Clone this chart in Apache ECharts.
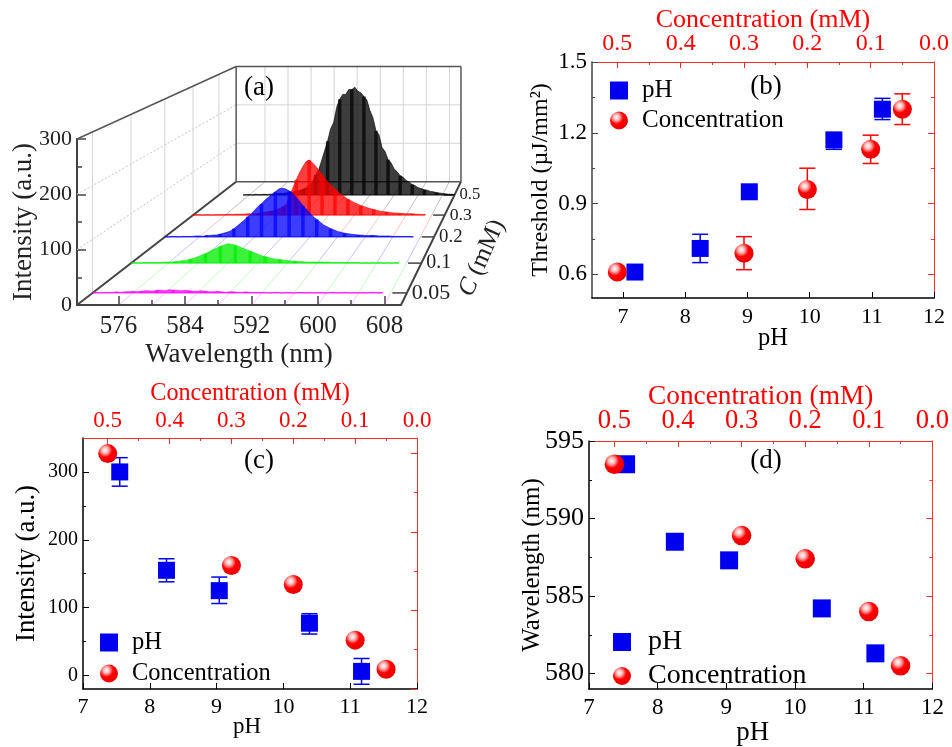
<!DOCTYPE html>
<html><head><meta charset="utf-8">
<style>html,body{margin:0;padding:0;background:#fff}#c{width:952px;height:747px}</style>
<script src="https://cdn.jsdelivr.net/npm/echarts@6/dist/echarts.min.js"></script>
</head><body><div id="c"></div>
<script>
// ---------- Panel (a) data ----------
const wavelengths = [571,571.5,572,572.5,573,573.5,574,574.5,575,575.5,
 576,576.5,577,577.5,578,578.5,579,579.5,580,580.5,
 581,581.5,582,582.5,583,583.5,584,584.5,585,585.5,
 586,586.5,587,587.5,588,588.5,589,589.5,590,590.5,
 591,591.5,592,592.5,593,593.5,594,594.5,595,595.5,
 596,596.5,597,597.5,598,598.5,599,599.5,600,600.5,
 601,601.5,602,602.5,603,603.5,604,604.5,605,605.5,
 606,606.5,607,607.5,608,608.5,609,609.5,610];
const spectrum05 = [null,null,null,null,null,null,null,null,0,1,
 1,0,2,1,1,2,1,2,2,3,
 4,4,5,6,7,8,10,12,15,18,
 24,32,50,62,85,110,134,165,180,218,
 238,250,250,262,262,268,258,254,245,236,
 210,192,160,150,118,108,88,80,65,58,
 48,44,36,32,26,23,18,16,13,12,
 9,8,6,5,4,3,2,2,1];
const spectrum03 = [0,1,1,0,1,1,0,1,1,1,
 1,2,1,2,2,2,2,3,3,3,
 4,5,6,7,9,10,13,16,20,25,
 46,64,82,98,112,124,128,122,114,104,
 94,84,76,68,60,54,48,42,37,33,
 29,26,22,20,17,15,13,11,9,8,
 7,6,5,5,4,4,3,3,3,2,
 2,1,2];
const spectrum02 = [1,0,1,1,0,1,1,1,1,2,
 2,1,3,3,4,4,6,8,10,13,
 18,24,30,36,44,50,58,66,72,80,
 86,92,98,104,106,104,100,94,86,78,
 68,60,52,44,38,32,26,22,18,15,
 12,10,8,7,6,5,4,4,3,3,
 3,3,2,2,2,2,1,1,1,1,
 1,1,0];
const spectrum01 = [0,1,0,1,1,1,1,1,1,2,
 2,2,3,4,5,6,8,10,13,16,
 19,23,27,30,34,36,39,38,36,33,
 30,27,24,21,18,15,13,11,9,8,
 7,6,5,4,4,3,3,2,2,2,
 2,2,2,2,1,1,1,1,1,1,
 1,1,0,1,0,1,0,1,0,1,
 0,1,0];
const spectrum005 = [0,1,0,1,1,1,2,1,2,2,
 3,2,3,4,4,3,5,5,4,6,
 5,5,4,5,4,3,3,4,3,2,
 2,3,2,1,2,2,1,1,2,1,
 1,1,1,1,0,1,1,0,1,1,
 0,1,1,0,1,0,1,1,0,1,
 1,0,1,1,0,1,0,1,0,1,
 1,0,1];
const depthLabels = ['0.05','0.1','0.2','0.3','0.5'];
const depthPositions = [0.07,0.263,0.461,0.651,0.851];
const depthColors = ['#ff00ff','#00ee00','#0000ff','#ff0000','#000000'];
const depthSpectra = [spectrum005,spectrum01,spectrum02,spectrum03,spectrum05];
const wlMajor = [576,584,592,600,608];
const wlMinor = [580,588,596,604];
const wlGrid = [576,580,584,588,592,596,600,604,608];
const aIntensityMajor = [0,100,200,300];
const aIntensityMinor = [50,150,250];

// ---------- Panel (b) ----------
const bPH = [7.19,8.24,9.03,10.39,11.17];
const bPHThreshold = [0.61,0.71,0.95,1.17,1.30];
const bPHLow = [0.61,0.65,0.95,1.13,1.256];
const bPHHigh = [0.61,0.77,0.95,1.20,1.346];
const bConc = [0.5,0.3,0.2,0.1,0.05];
const bConcThreshold = [0.61,0.69,0.96,1.13,1.30];
const bConcLow = [0.61,0.62,0.875,1.07,1.235];
const bConcHigh = [0.61,0.76,1.05,1.19,1.365];
const bYMajor = [0.6,0.9,1.2,1.5];
const bYMinor = [0.75,1.05,1.35];

// ---------- Panel (c) ----------
const cPH = [7.55,8.25,9.04,10.39,11.17];
const cPHIntensity = [300,155,125,77,6];
const cPHLow = [279,138,106,61,-13];
const cPHHigh = [321,172,145,91,25];
const cConc = [0.5,0.3,0.2,0.1,0.05];
const cConcIntensity = [327,162,134,52,9];
const cYMajor = [0,100,200,300];
const cYMinor = [50,150,250];
const cRightMajor = [0,100,200,300];
const cRightMinor = [50,150,250];

// ---------- Panel (d) ----------
const dPH = [7.54,8.25,9.04,10.39,11.17];
const dPHWavelength = [593.5,588.5,587.3,584.2,581.3];
const dConc = [0.5,0.3,0.2,0.1,0.05];
const dConcWavelength = [593.5,588.9,587.4,584.0,580.5];
const dYMajor = [580,585,590,595];
const dYMinor = [582.5,587.5,592.5];

// ---------- Shared ----------
const pHTicks = [7,8,9,10,11,12];
const concMajor = [0,0.1,0.2,0.3,0.4,0.5];
const concMinor = [0.05,0.15,0.25,0.35,0.45];
const FONT = 'Liberation Serif';
const RED = '#ff0000', BLUE = '#0000f0';

const ballColor = {type:'radial',x:0.36,y:0.32,r:0.68,colorStops:[
  {offset:0,color:'#ffffff'},{offset:0.26,color:'#ffb0b0'},{offset:0.55,color:'#ff0000'},{offset:1,color:'#e80000'}]};

const xAxes = [], yAxes = [], grids = [], series = [], legends = [];

function ax(list, o){
  list.push(Object.assign({
    type:'value', gridIndex:o.g, position:o.pos, min:o.min, max:o.max, inverse:!!o.inverse,
    splitLine:{show:false}, minorTick:{show:false},
    axisLine:{show:o.line!==false, onZero:false, lineStyle:{color:o.color, width:o.lw||1.5}},
    axisTick:{show:true, inside:true, length:o.len||6, customValues:o.ticks, lineStyle:{color:o.color, width:o.tw||1}},
    axisLabel:o.labelSize?{show:true, customValues:o.ticks, fontSize:o.labelSize, color:o.color==='#ff3030'?RED:(o.labelColor||'#000'),
      fontFamily:FONT, margin:o.margin||6, formatter:o.fmt||(v=>String(v))}:{show:false},
    name:o.name||'', nameLocation:'middle', nameGap:o.nameGap, nameMoveOverlap:false,
    nameTextStyle:{fontSize:o.nameSize, fontFamily:FONT, color:o.nameColor||'#000', padding:o.namePad||0}
  }));
  return list.length-1;
}

function panel(p){
  const g = grids.length;
  grids.push({left:p.left, top:p.top, width:p.width, height:p.height, containLabel:false});
  const f1 = v=>v.toFixed(1);
  const xb = ax(xAxes,{g,pos:'bottom',min:p.xMin,max:12,color:'#000',ticks:pHTicks,labelSize:p.xSize,margin:p.xMargin,
    name:'pH',nameGap:p.pHGap,nameSize:p.pHSize,namePad:p.pHPad});
  const xt = ax(xAxes,{g,pos:'top',min:0,max:p.concMax,inverse:true,color:'#ff3030',lw:1,ticks:concMajor,labelSize:p.topSize,margin:p.topMargin,fmt:f1,
    name:'Concentration (mM)',nameGap:p.topGap,nameSize:p.titleSize,nameColor:RED});
  ax(xAxes,{g,pos:'top',min:0,max:p.concMax,inverse:true,color:'#ff3030',lw:1,line:false,ticks:concMinor,len:3});
  const yl = ax(yAxes,{g,pos:'left',min:p.yMin,max:p.yMax,color:p.leftColor||'#000',ticks:p.yMajor,labelSize:p.ySize,labelColor:'#000',margin:p.yMargin,fmt:p.yFmt,
    name:p.yName,nameGap:p.yGap,nameSize:p.yNameSize});
  ax(yAxes,{g,pos:'left',min:p.yMin,max:p.yMax,color:p.leftColor||'#000',line:false,ticks:p.yMinor,len:3});
  ax(yAxes,{g,pos:'right',min:p.rMin,max:p.rMax,color:'#ff3030',lw:1,ticks:p.rMajor,len:6});
  ax(yAxes,{g,pos:'right',min:p.rMin,max:p.rMax,color:'#ff3030',lw:1,line:false,ticks:p.rMinor,len:3});

  function errorSeries(xs,lows,highs,xi,color,capW){
    series.push({type:'custom',xAxisIndex:xi,yAxisIndex:yl,z:3,silent:true,
      data:xs.map((x,i)=>[x,lows[i],highs[i]]),
      renderItem:(params,api)=>{
        const lo=api.coord([api.value(0),api.value(1)]), hi=api.coord([api.value(0),api.value(2)]);
        const st={stroke:color,lineWidth:1.5,fill:'none'};
        const seg=(a,b,c,d)=>({type:'line',shape:{x1:a,y1:b,x2:c,y2:d},style:st});
        return {type:'group',children:[seg(lo[0],lo[1],hi[0],hi[1]),
          seg(lo[0]-capW,lo[1],lo[0]+capW,lo[1]),seg(hi[0]-capW,hi[1],hi[0]+capW,hi[1])]};
      }});
  }
  if(p.phLow) errorSeries(p.phX,p.phLow,p.phHigh,xb,BLUE,8);
  if(p.concLow) errorSeries(p.concX,p.concLow,p.concHigh,xt,RED,8);
  series.push({name:'pH',type:'scatter',xAxisIndex:xb,yAxisIndex:yl,z:5,symbol:'rect',symbolSize:p.sq,
    itemStyle:{color:BLUE,opacity:1},data:p.phX.map((x,i)=>[x,p.phY[i]])});
  series.push({name:'Concentration',type:'scatter',xAxisIndex:xt,yAxisIndex:yl,z:6,symbol:'circle',symbolSize:p.ball,
    itemStyle:{color:ballColor,opacity:1},data:p.concX.map((x,i)=>[x,p.concY[i]])});
  legends.push({show:true,orient:'vertical',left:p.legLeft,top:p.legTop,itemWidth:p.legItem,itemHeight:p.legItem,itemGap:p.legGap,
    selectedMode:false,padding:0,data:['pH','Concentration'],
    textStyle:{fontFamily:FONT,fontSize:p.legSize,color:'#000',padding:[0,0,0,p.legText]}});
}

// ---------- Panel (a): perspective view through the grid's own axes ----------
const VX=597, VY=-98, K=0.441;
const aGrid = grids.length;
grids.push({left:77,top:139,width:324,height:166,containLabel:false});
const aX = ax(xAxes,{g:aGrid,pos:'bottom',min:571,max:610,color:'#444',lw:2,ticks:wlMajor,labelSize:25,labelColor:'#222',margin:9,
  name:'Wavelength (nm)',nameGap:36,nameSize:27,nameColor:'#222',len:9,tw:1.5});
ax(xAxes,{g:aGrid,pos:'bottom',min:571,max:610,color:'#444',line:false,ticks:wlMinor,len:5,tw:1.5});
const aY = ax(yAxes,{g:aGrid,pos:'left',min:0,max:300,color:'#444',lw:2,ticks:aIntensityMajor,labelSize:22,labelColor:'#222',margin:5,
  name:'Intensity (a.u.)',nameGap:40,nameSize:27,nameColor:'#222',len:9,tw:1.5});
ax(yAxes,{g:aGrid,pos:'left',min:0,max:300,color:'#444',line:false,ticks:aIntensityMinor,len:5,tw:1.5});

function proj(api,w,i,d){
  const p=api.coord([w,i]), s=1/(1+K*d);
  return [VX+(p[0]-VX)*s, VY+(p[1]-VY)*s];
}
function seg3(api,a,b,style){
  const p=proj(api,a[0],a[1],a[2]), q=proj(api,b[0],b[1],b[2]);
  return {type:'line',shape:{x1:p[0],y1:p[1],x2:q[0],y2:q[1]},style:Object.assign({fill:'none'},style)};
}
series.push({type:'custom',xAxisIndex:aX,yAxisIndex:aY,z:1,silent:true,clip:false,data:[[571,0]],
  renderItem:(params,api)=>{
    const ch=[];
    const light={stroke:'#d4d4d4',lineWidth:1}, dot={stroke:'#c4c4c4',lineWidth:1,lineDash:[2,2]}, dark={stroke:'#555',lineWidth:1.5};
    wlGrid.forEach(w=>ch.push(seg3(api,[w,0,1],[w,300,1],light)));
    [100,200].forEach(v=>{
      ch.push(seg3(api,[571,v,1],[610,v,1],light));
      ch.push(seg3(api,[571,v,0],[571,v,1],dot));
    });
    depthPositions.forEach(d=>ch.push(seg3(api,[571,0,d],[571,300,d],light)));
    const stops=[0].concat(depthPositions,[1]);
    wlGrid.forEach(w=>{
      for(let i=0;i<stops.length-1;i++){
        const col=depthColors[Math.min(i,4)];
        ch.push(seg3(api,[w,0,stops[i]],[w,0,stops[i+1]],{stroke:col,lineWidth:0.7,opacity:0.35}));
      }
    });
    ch.push(seg3(api,[571,0,0],[571,0,1],{stroke:'#444',lineWidth:2}));
    ch.push(seg3(api,[610,0,0],[610,0,1],{stroke:'#444',lineWidth:2}));
    ch.push(seg3(api,[571,300,0],[571,300,1],dark));
    ch.push(seg3(api,[571,0,1],[610,0,1],dark));
    ch.push(seg3(api,[571,300,1],[610,300,1],dark));
    ch.push(seg3(api,[571,0,1],[571,300,1],dark));
    ch.push(seg3(api,[610,0,1],[610,300,1],dark));
    depthPositions.forEach((d,i)=>{
      ch.push(seg3(api,[610,0,d],[608.2,0,d],{stroke:'#444',lineWidth:1.5}));
      const p=proj(api,610,0,d);
      ch.push({type:'text',x:p[0]+5,y:p[1],style:{text:depthLabels[i],fill:'#222',font:(22-1.1*i-(i>0?1:0))+'px "'+FONT+'"',textAlign:'left',textVerticalAlign:'middle'}});
    });
    return {type:'group',children:ch};
  }});
[4,3,2,1,0].forEach(k=>{
  const arr=depthSpectra[k], d=depthPositions[k], col=depthColors[k];
  const pts=[]; arr.forEach((v,i)=>{ if(v!==null) pts.push([wavelengths[i],v]); });
  series.push({type:'custom',name:'C = '+depthLabels[k]+' mM',xAxisIndex:aX,yAxisIndex:aY,z:2+(4-k)*0.1,silent:true,clip:false,data:pts,
    renderItem:(params,api)=>{
      if(params.dataIndex!==0) return null;
      const top=pts.map(q=>proj(api,q[0],q[1],d));
      const a=proj(api,pts[0][0],0,d), b=proj(api,pts[pts.length-1][0],0,d);
      const ch=[{type:'polygon',shape:{points:[a].concat(top,[b])},style:{fill:col,opacity:0.76}},
        {type:'polyline',shape:{points:[a,b]},style:{stroke:col,lineWidth:0.9,fill:'none'}},
        {type:'polyline',shape:{points:top},style:{stroke:col,lineWidth:0.8,fill:'none',opacity:0.8}}];
      pts.forEach((q,i)=>{
        if(i%4===0&&q[1]>2){
          const base=proj(api,q[0],0,d);
          ch.push({type:'line',shape:{x1:top[i][0],y1:top[i][1],x2:base[0],y2:base[1]},style:{stroke:col,lineWidth:3.5,opacity:0.7}});
        }
      });
      return {type:'group',children:ch};
    }});
});

panel({left:592,top:62,width:342,height:236,xMin:6.5,concMax:0.54,yMin:0.5,yMax:1.5,yMajor:bYMajor,yMinor:bYMinor,
  rMin:0.5,rMax:1.5,rMajor:bYMajor,rMinor:bYMinor,leftColor:'#444',
  xSize:22,xMargin:8,topSize:24,topMargin:6,titleSize:26,topGap:29,pHGap:28,pHSize:24.5,pHPad:[0,0,0,20],
  ySize:23,yMargin:5,yFmt:v=>v.toFixed(1),yName:'Threshold (µJ/mm²)',yGap:39,yNameSize:24,
  phX:bPH,phY:bPHThreshold,phLow:bPHLow,phHigh:bPHHigh,concX:bConc,concY:bConcThreshold,concLow:bConcLow,concHigh:bConcHigh,
  sq:17,ball:19,legLeft:610,legTop:78,legItem:18,legGap:5,legSize:25,legText:9});
panel({left:83,top:438,width:334,height:251,xMin:7,concMax:0.54,yMin:-20,yMax:350,yMajor:cYMajor,yMinor:cYMinor,
  rMin:0,rMax:319.5,rMajor:cRightMajor,rMinor:cRightMinor,
  xSize:22,xMargin:7,topSize:23,topMargin:6,titleSize:24.2,topGap:32,pHGap:26,pHSize:23,pHPad:[0,6,0,0],
  ySize:20,yMargin:5,yName:'Intensity (a.u.)',yGap:43,yNameSize:26.8,
  phX:cPH,phY:cPHIntensity,phLow:cPHLow,phHigh:cPHHigh,concX:cConc,concY:cConcIntensity,
  sq:17,ball:19,legLeft:100,legTop:630,legItem:18,legGap:6,legSize:24.5,legText:9});
panel({left:589,top:441,width:344,height:249,xMin:7,concMax:0.54,yMin:579,yMax:595,yMajor:dYMajor,yMinor:dYMinor,
  rMin:579,rMax:595,rMajor:dYMajor,rMinor:dYMinor,
  xSize:23,xMargin:7,topSize:26.6,topMargin:6,titleSize:27.3,topGap:31,pHGap:30,pHSize:26.8,pHPad:[0,16,0,0],
  ySize:26,yMargin:5,yName:'Wavelength (nm)',yGap:44,yNameSize:25,
  phX:dPH,phY:dPHWavelength,concX:dConc,concY:dConcWavelength,
  sq:18,ball:19.5,legLeft:613,legTop:628,legItem:18,legGap:6,legSize:28,legText:12});

const labels=[['(a)',259,88],['(b)',766,87],['(c)',259,461],['(d)',766,461]];
const chart=echarts.init(document.getElementById('c'),null,{renderer:'canvas'});
chart.setOption({
  animation:false,backgroundColor:'#fff',textStyle:{fontFamily:FONT},
  grid:grids,xAxis:xAxes,yAxis:yAxes,legend:legends,series,
  graphic:labels.map(l=>({type:'text',x:l[1],y:l[2],z:20,style:{text:l[0],font:'27px "'+FONT+'"',fill:'#000',textAlign:'center',textVerticalAlign:'middle'}})).concat([
    {type:'text',x:482,y:258,rotation:66*Math.PI/180,z:20,style:{
      rich:{i:{fontStyle:'italic',fontSize:25,fontFamily:FONT,fill:'#222'},n:{fontSize:25,fontFamily:FONT,fill:'#222'}},
      text:'{i|C}{n| (mM)}',textAlign:'center',textVerticalAlign:'middle'}}])
});
</script></body></html>
